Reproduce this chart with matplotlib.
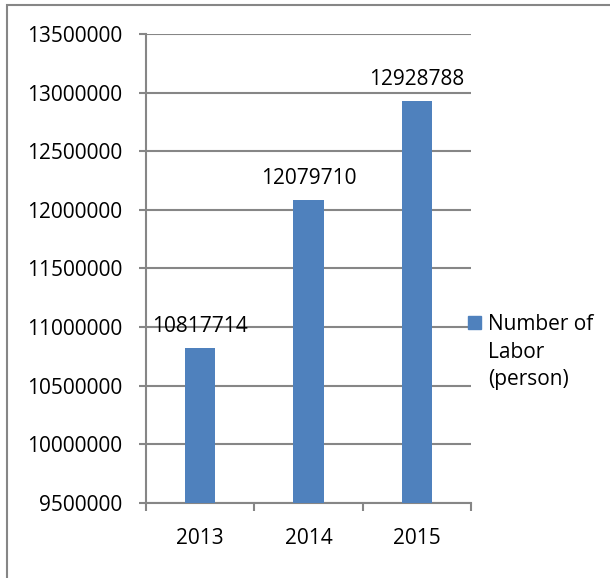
import numpy as np
import matplotlib
matplotlib.use('Agg')
import matplotlib.pyplot as plt
from matplotlib.patches import Rectangle

plt.rcParams['font.family'] = ['Open Sans', 'DejaVu Sans']

# data
years = ['2013', '2014', '2015']
labor = [10817714, 12079710, 12928788]
legend_label = 'Number of\nLabor\n(person)'

bar_color = '#4F81BD'
line_color = '#868686'
fs = 15

fig = plt.figure(figsize=(6.1, 5.78), dpi=100)
ax = fig.add_axes([146 / 610, 1 - 502.7 / 578, 325 / 610, (502.7 - 34) / 578])

x = np.arange(len(years))
ax.bar(x, labor, width=0.277, color=bar_color, zorder=3)
for i, v in enumerate(labor):
    ax.annotate(str(v), (x[i], v), xytext=(0, 8), textcoords='offset points',
                ha='center', va='bottom', fontsize=fs)

ax.set_xlim(-0.5, len(years) - 0.5)
ax.set_ylim(9500000, 13500000)
ax.set_yticks(np.arange(9500000, 13500001, 500000))
ax.set_yticklabels([str(int(t)) for t in ax.get_yticks()], fontsize=fs)
ax.yaxis.grid(True, color=line_color, linewidth=1.5, zorder=0)

# category boundaries as major ticks, labels on minor ticks
ax.set_xticks(np.arange(-0.5, len(years), 1.0))
ax.set_xticklabels([])
ax.set_xticks(x, minor=True)
ax.set_xticklabels(years, minor=True, fontsize=fs)
ax.tick_params(axis='x', which='major', length=6, width=1.5, color=line_color, direction='out')
ax.tick_params(axis='x', which='minor', length=0, pad=18)
ax.tick_params(axis='y', length=5, width=1.5, color=line_color, pad=12)

for s in ['top', 'right']:
    ax.spines[s].set_visible(False)
for s in ['left', 'bottom']:
    ax.spines[s].set_color(line_color)
    ax.spines[s].set_linewidth(1.5)

# legend (manual, marker aligned with first line)
fig.add_artist(Rectangle((468 / 610, 1 - 329 / 578), 13 / 610, 13 / 578,
                         transform=fig.transFigure, color=bar_color))
fig.text(488 / 610, 1 - 352 / 578, legend_label, fontsize=fs, va='center',
         ha='left', linespacing=1.4)

# outer chart border
fig.add_artist(Rectangle((7 / 610, -0.1), 1.2, 1 - 5 / 578 + 0.1,
                         transform=fig.transFigure, fill=False,
                         edgecolor=line_color, linewidth=1.5))

fig.savefig('out.png', dpi=100, facecolor='white')
